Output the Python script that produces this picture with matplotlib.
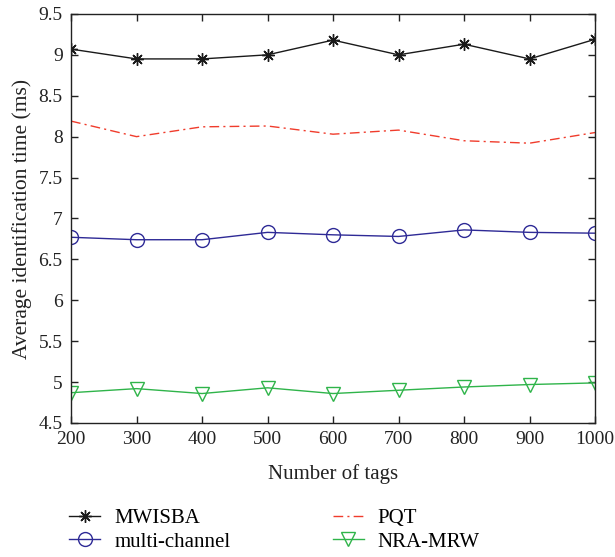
import matplotlib
matplotlib.use('Agg')
import matplotlib.pyplot as plt

plt.rcParams['font.family'] = ['Liberation Serif', 'DejaVu Serif']

# data
tags = [200, 300, 400, 500, 600, 700, 800, 900, 1000]
mwisba = [9.07, 8.95, 8.95, 9.00, 9.18, 9.00, 9.13, 8.95, 9.19]
pqt = [8.19, 8.00, 8.12, 8.13, 8.03, 8.08, 7.95, 7.92, 8.05]
multi_channel = [6.77, 6.74, 6.74, 6.83, 6.80, 6.78, 6.86, 6.83, 6.82]
nra_mrw = [4.87, 4.92, 4.86, 4.93, 4.86, 4.90, 4.94, 4.97, 4.99]

yticks = [4.5, 5, 5.5, 6, 6.5, 7, 7.5, 8, 8.5, 9, 9.5]
ytick_labels = ['4.5', '5', '5.5', '6', '6.5', '7', '7.5', '8', '8.5', '9', '9.5']

fig = plt.figure(figsize=(6.15, 5.57), dpi=100)
ax = fig.add_axes([0.1155, 0.2406, 0.852, 0.7344])

# MATLAB-style "*" marker: plus and cross combined
l1, = ax.plot(tags, mwisba, color='#1a1a1a', lw=1.0, marker=(8, 2, 0), ms=9,
              mew=1.0, label='MWISBA')
l3, = ax.plot(tags, pqt, color='#f03c2c', lw=1.0, ls=(0, (7, 3, 1.5, 3)),
              label='PQT')
l2, = ax.plot(tags, multi_channel, color='#2e2a96', lw=1.0, marker='o', ms=10,
              mfc='none', mew=1.0, label='multi-channel')
l4, = ax.plot(tags, nra_mrw, color='#2fb44a', lw=1.0, marker='v', ms=10.5,
              mfc='none', mew=1.0, label='NRA-MRW')

ax.set_xlim(200, 1000)
ax.set_ylim(4.5, 9.5)
ax.set_xticks(tags)
ax.set_yticks(yticks)
ax.set_yticklabels(ytick_labels)
ax.tick_params(direction='in', top=True, right=True, length=5, width=1,
               labelsize=14, colors='#222222', pad=6)
for s in ax.spines.values():
    s.set_linewidth(1.0)
    s.set_color('#222222')

ax.set_xlabel('Number of tags', fontsize=15, color='#222222', labelpad=11)
ax.set_ylabel('Average identification time (ms)', fontsize=15.5, color='#222222',
              labelpad=5)

fig.legend(handles=[l1, l2, l3, l4], ncol=2, frameon=False, fontsize=15,
           loc='lower left', bbox_to_anchor=(0.082, -0.024), handlelength=1.5,
           columnspacing=4.9, labelspacing=0.2, handletextpad=0.67)

fig.savefig('out.png', dpi=100)
